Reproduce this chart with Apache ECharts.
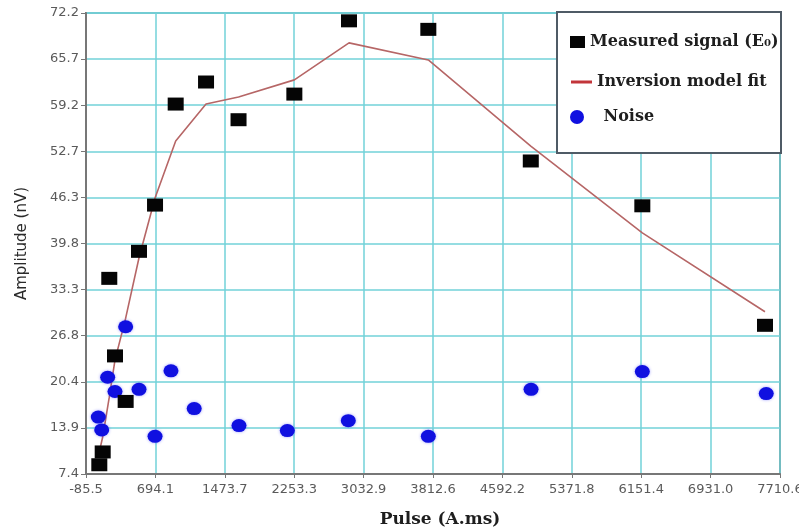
<!DOCTYPE html>
<html>
<head>
<meta charset="utf-8">
<script src="https://cdn.jsdelivr.net/npm/echarts@6/dist/echarts.min.js"></script>
<style>
  html, body { margin: 0; padding: 0; background: #fff; }
  #chart { width: 799px; height: 528px; }
</style>
</head>
<body>
<div id="chart"></div>
<script>
// Tick labels for both axes
const xTickLabels = ['-85.5', '694.1', '1473.7', '2253.3', '3032.9', '3812.6', '4592.2', '5371.8', '6151.4', '6931.0', '7710.6'];
const yTickLabels = ['7.4', '13.9', '20.4', '26.8', '33.3', '39.8', '46.3', '52.7', '59.2', '65.7', '72.2'];

// Measured signal (E0): pulse moment and amplitude
const measuredPulse = [64, 102, 176, 240, 360, 510, 690, 922, 1263, 1628, 2255, 2869, 3760, 4911, 6164, 7542];
const measuredAmp   = [8.7, 10.5, 34.9, 24.0, 17.6, 38.7, 45.2, 59.4, 62.5, 57.2, 60.8, 71.1, 69.9, 51.4, 45.1, 28.3];

// Inversion model fit, evaluated at the measured pulse moments
const fitAmp = [10.5, 12.6, 18.2, 23.4, 29.3, 37.8, 46.2, 54.2, 59.4, 60.4, 62.8, 68.0, 65.6, 53.5, 41.3, 30.2];

// Noise level
const noisePulse = [53, 91, 158, 240, 360, 510, 690, 869, 1130, 1633, 2176, 2861, 3760, 4914, 6164, 7556];
const noiseAmp   = [15.4, 13.6, 21.0, 19.0, 28.1, 19.3, 12.7, 21.9, 16.6, 14.2, 13.5, 14.9, 12.7, 19.3, 21.8, 18.7];

const NAME_MEASURED = 'Measured signal (E\u2080)';
const NAME_FIT = 'Inversion model fit';
const NAME_NOISE = 'Noise';

const xMin = Number(xTickLabels[0]);
const xMax = Number(xTickLabels[xTickLabels.length - 1]);
const xStep = (xMax - xMin) / (xTickLabels.length - 1);
const yMin = Number(yTickLabels[0]);
const yMax = Number(yTickLabels[yTickLabels.length - 1]);
const yStep = (yMax - yMin) / (yTickLabels.length - 1);

const zip = (xs, ys) => xs.map((x, i) => [x, ys[i]]);

const gridColor = '#72d2d8';
const axisColor = '#777';
const labelFont = { fontFamily: 'DejaVu Sans', fontSize: 13, color: '#5a5a5a' };
const legendText = { fontFamily: 'DejaVu Serif', fontWeight: 'bold', fontSize: 16, color: '#1e1e1e' };

const chart = echarts.init(document.getElementById('chart'), null, { renderer: 'canvas' });

chart.setOption({
  backgroundColor: '#ffffff',
  animation: false,
  grid: {
    left: 86, right: 19, top: 13, bottom: 54,
    outerBoundsMode: 'none',
    containLabel: false,
    show: true, borderColor: '#7d7d7d', borderWidth: 2, backgroundColor: 'transparent'
  },
  xAxis: {
    type: 'value',
    min: xMin, max: xMax, interval: xStep,
    name: 'Pulse (A.ms)',
    nameLocation: 'middle',
    nameGap: 37,
    nameTextStyle: { fontFamily: 'DejaVu Serif', fontWeight: 'bold', fontSize: 17, color: '#1e1e1e', padding: [0, 0, 0, 14] },
    axisLine: { show: true, onZero: false, lineStyle: { color: axisColor, width: 2 } },
    axisTick: { show: true, inside: false, length: 4, lineStyle: { color: axisColor, width: 1 } },
    axisLabel: Object.assign({
      margin: 9,
      formatter: v => xTickLabels[Math.round((v - xMin) / xStep)]
    }, labelFont),
    splitLine: { show: true, lineStyle: { color: gridColor, width: 1.5 } }
  },
  yAxis: {
    type: 'value',
    min: yMin, max: yMax, interval: yStep,
    name: 'Amplitude (nV)',
    nameLocation: 'middle',
    nameGap: 56,
    nameRotate: 90,
    nameTextStyle: { fontFamily: 'DejaVu Sans', fontSize: 15, color: '#2a2a2a' },
    axisLine: { show: true, onZero: false, lineStyle: { color: axisColor, width: 2 } },
    axisTick: { show: true, inside: false, length: 5, lineStyle: { color: axisColor, width: 1 } },
    axisLabel: Object.assign({
      margin: 7,
      formatter: v => yTickLabels[Math.round((v - yMin) / yStep)]
    }, labelFont),
    splitLine: { show: true, lineStyle: { color: gridColor, width: 1.5 } }
  },
  graphic: [{
    type: 'rect',
    z: 10,
    shape: { x: 557, y: 12, width: 224, height: 141 },
    style: { fill: '#ffffff', stroke: '#4f5b66', lineWidth: 2 }
  }],
  legend: [
    {
      z: 20, left: 565, top: 29, orient: 'vertical',
      icon: 'rect', itemWidth: 15, itemHeight: 12,
      textStyle: legendText,
      selectedMode: false,
      data: [NAME_MEASURED]
    },
    {
      z: 20, left: 566, top: 69, orient: 'vertical',
      icon: 'rect', itemWidth: 21, itemHeight: 3,
      textStyle: legendText,
      selectedMode: false,
      data: [{ name: NAME_FIT, itemStyle: { color: '#c2353a' } }]
    },
    {
      z: 20, left: 565, top: 104, orient: 'vertical',
      icon: 'circle', itemWidth: 15, itemHeight: 14,
      textStyle: Object.assign({ padding: [0, 0, 0, 14] }, legendText),
      selectedMode: false,
      data: [NAME_NOISE]
    }
  ],
  series: [
    {
      name: NAME_FIT,
      type: 'line',
      z: 2,
      data: zip(measuredPulse, fitAmp),
      showSymbol: false,
      symbol: 'none',
      smooth: false,
      lineStyle: { color: '#b66666', width: 1.6 },
      itemStyle: { color: '#b66666' }
    },
    {
      name: NAME_NOISE,
      type: 'scatter',
      z: 3,
      data: zip(noisePulse, noiseAmp),
      symbol: 'circle',
      symbolSize: [15, 13],
      itemStyle: { color: '#1010e0', opacity: 1, shadowColor: 'rgba(40,40,255,0.45)', shadowBlur: 3 }
    },
    {
      name: NAME_MEASURED,
      type: 'scatter',
      z: 4,
      data: zip(measuredPulse, measuredAmp),
      symbol: 'rect',
      symbolSize: [16, 13],
      itemStyle: { color: '#050505', opacity: 1 }
    }
  ]
});
</script>
</body>
</html>
